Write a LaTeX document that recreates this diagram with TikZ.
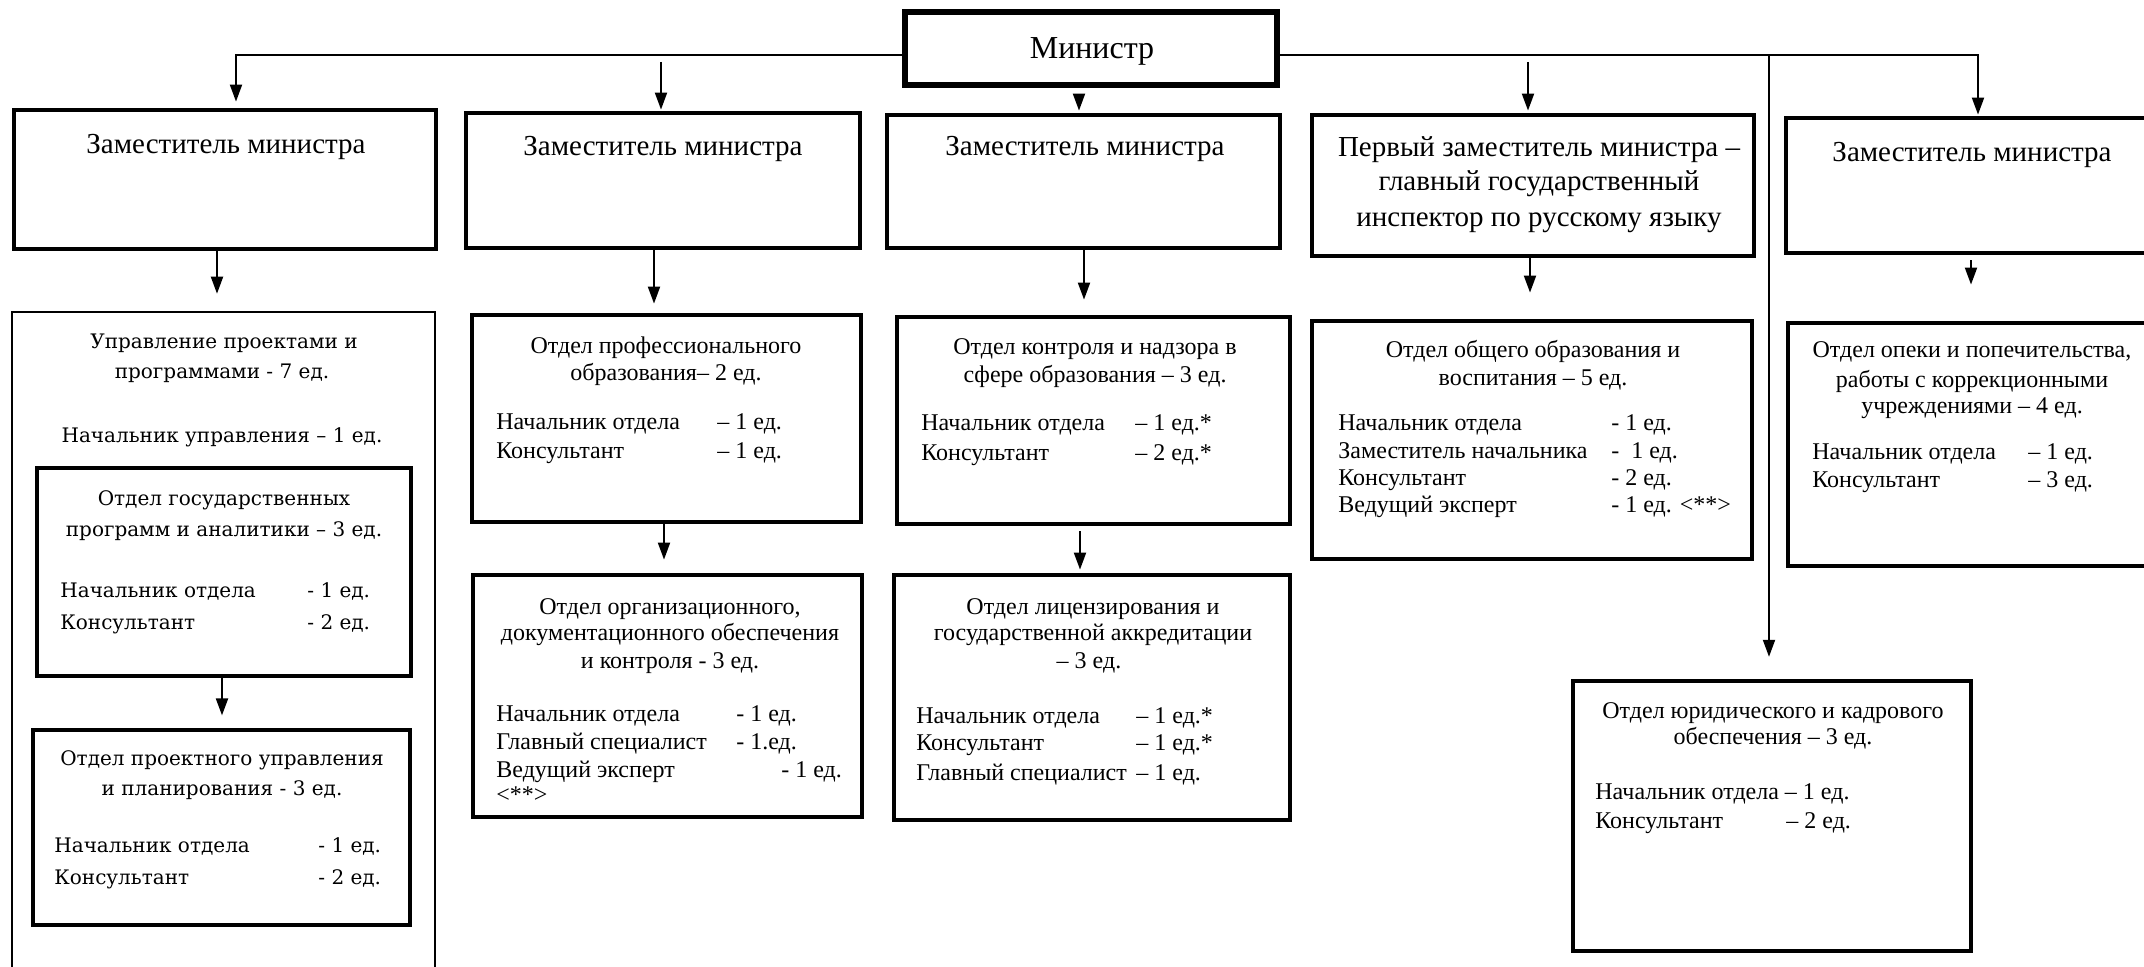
\documentclass[tikz,border=0pt]{standalone}
\usepackage{fontspec}
\setmainfont{Liberation Serif}
\newfontfamily\dvs{DejaVu Serif}
\usetikzlibrary{arrows.meta,fit}
\newcommand\fmin{\fontsize{16}{19}\selectfont}
\newcommand\fdep{\fontsize{14.5}{17}\selectfont}
\newcommand\fdept{\fontsize{12}{14}\selectfont}
\newcommand\fdv{\dvs\fontsize{10}{12}\selectfont}
\newcommand\rowtx[6]{%
  \node[rw] (#1a) at (#2,#4) {#5};
  \node[rw] (#1b) at (#3,#4) {#6};}
\begin{document}
\begin{tikzpicture}[x=0.5pt,y=-0.5pt,
  box/.style={draw, inner sep=0pt, line width=2.4pt},
  thinbox/.style={draw, inner sep=0pt, line width=1.3pt},
  midbox/.style={draw, inner sep=0pt, line width=1.6pt},
  ln/.style={line width=1pt},
  conn/.style={line width=1pt, -{Triangle[length=8.5pt,width=6pt]}},
  tl/.style={inner sep=0pt, anchor=mid, yshift=-1.8pt, font=\fdept},
  tld/.style={inner sep=0pt, anchor=mid, yshift=-1.8pt, font=\fdv},
  rw/.style={inner sep=0pt, anchor=mid west, yshift=-1.8pt, font=\fdept},
  dep/.style={inner sep=0pt, anchor=mid, yshift=-2pt, font=\fdep}]
\useasboundingbox (0,0) rectangle (2144,967);
\fill[white] (0,0) rectangle (2144,967);
\clip (0,0) rectangle (2144,967);

% boxes
\node[box, line width=2.6pt, fit={(905,12) (1277,85)}] (min) {};
\node[box, fit={(14,110) (436,249)}] (b1) {};
\node[box, fit={(466,113) (860,248)}] (b2) {};
\node[box, fit={(887,115) (1280,248)}] (b3) {};
\node[box, fit={(1312,115) (1754,256)}] (b4) {};
\node[box, fit={(1786,118) (2170,253)}] (b5) {};
\node[thinbox, fit={(12,312) (435,1000)}] (d1) {};
\node[midbox, fit={(37,468) (411,676)}] (s1) {};
\node[midbox, fit={(33,730) (410,925)}] (s2) {};
\node[box, fit={(472,315) (861,522)}] (d2) {};
\node[box, fit={(897,317) (1290,524)}] (d3) {};
\node[box, fit={(1312,321) (1752,559)}] (d4) {};
\node[box, fit={(1788,323) (2170,566)}] (d5) {};
\node[box, fit={(473,575) (862,817)}] (d6) {};
\node[box, fit={(894,575) (1290,820)}] (d7) {};
\node[box, line width=2.2pt, fit={(1573,681) (1971,951)}] (jb) {};

% junction coordinates on the bus line
\coordinate (c2) at (661,55);
\coordinate (c4) at (1528,55);
\coordinate (c6) at (1769,55);

% connectors
\draw[conn, shorten >=3pt] (min.west |- 0,55) -- (236,55) -- (b1.north -| 236,0);
\draw[conn, shorten >=0.5pt] (min.east |- 0,55) -- (1978,55) -- (b5.north -| 1978,0);
\draw[conn, shorten <=3.5pt, shorten >=0.5pt] (c2) -- (b2.north -| c2);
\draw[conn, shorten <=3.5pt, shorten >=1pt] (min.south -| 1079,0) -- (b3.north -| 1079,0);
\draw[conn, shorten <=3.5pt, shorten >=1pt] (c4) -- (b4.north -| c4);
\draw[conn, shorten >=11pt] (c6) -- (jb.north -| c6);
\draw[conn, shorten >=8.5pt] (b1.south -| 217,0) -- (d1.north -| 217,0);
\draw[conn, shorten >=4.5pt] (b2.south -| 654,0) -- (d2.north -| 654,0);
\draw[conn, shorten >=7.5pt] (b3.south -| 1084,0) -- (d3.north -| 1084,0);
\draw[conn, shorten >=13pt] (b4.south -| 1530,0) -- (d4.north -| 1530,0);
\draw[conn, shorten <=2.5pt, shorten >=18pt] (b5.south -| 1971,0) -- (d5.north -| 1971,0);
\draw[conn, shorten >=6.5pt] (d2.south -| 664,0) -- (d6.north -| 664,0);
\draw[conn, shorten <=2.5pt, shorten >=1.5pt] (d3.south -| 1080,0) -- (d7.north -| 1080,0);
\draw[conn, shorten >=6.5pt] (s1.south -| 222,0) -- (s2.north -| 222,0);

% top texts
\node[inner sep=0pt, anchor=mid, yshift=-2pt, font=\fmin] (tmin) at (1092,50) {Министр};
\node[dep] (tb1) at (226,145) {Заместитель министра};
\node[dep] (tb2) at (663,147) {Заместитель министра};
\node[dep] (tb3) at (1085,147) {Заместитель министра};
\node[dep] (tb4a) at (1539,148) {Первый заместитель министра –};
\node[dep] (tb4b) at (1539,182) {главный государственный};
\node[dep] (tb4c) at (1539,218) {инспектор по русскому языку};
\node[dep] (tb5) at (1972,153) {Заместитель министра};

% D1 block
\begin{scope}[rw/.style={inner sep=0pt, anchor=mid west, yshift=-1.8pt, font=\fdv}]
\node[tld] (d1t1) at (224,340) {Управление проектами и};
\node[tld] (d1t2) at (222,370) {программами - 7 ед.};
\node[tld] (d1t3) at (222,434) {Начальник управления – 1 ед.};
\node[tld] (s1t1) at (224,497) {Отдел государственных};
\node[tld] (s1t2) at (224,528) {программ и аналитики – 3 ед.};
\rowtx{s1r1}{60}{307}{589}{Начальник отдела}{- 1 ед.}
\rowtx{s1r2}{60}{307}{621}{Консультант}{- 2 ед.}
\node[tld] (s2t1) at (222,757) {Отдел проектного управления};
\node[tld] (s2t2) at (222,787) {и планирования - 3 ед.};
\rowtx{s2r1}{54}{318}{844}{Начальник отдела}{- 1 ед.}
\rowtx{s2r2}{54}{318}{876}{Консультант}{- 2 ед.}
\end{scope}

% D2
\node[tl] (d2t1) at (666,345) {Отдел профессионального};
\node[tl] (d2t2) at (666,372) {образования– 2 ед.};
\rowtx{d2r1}{496}{717}{421}{Начальник отдела}{– 1 ед.}
\rowtx{d2r2}{496}{717}{450}{Консультант}{– 1 ед.}
% D3
\node[tl] (d3t1) at (1095,346) {Отдел контроля и надзора в};
\node[tl] (d3t2) at (1095,374) {сфере образования – 3 ед.};
\rowtx{d3r1}{921}{1135}{422}{Начальник отдела}{– 1 ед.*}
\rowtx{d3r2}{921}{1135}{452}{Консультант}{– 2 ед.*}
% D4
\node[tl] (d4t1) at (1533,349) {Отдел общего образования и};
\node[tl] (d4t2) at (1533,377) {воспитания – 5 ед.};
\rowtx{d4r1}{1338}{1611}{422}{Начальник отдела}{- 1 ед.}
\rowtx{d4r2}{1338}{1611}{450}{Заместитель начальника}{-\ \ 1 ед.}
\rowtx{d4r3}{1338}{1611}{477}{Консультант}{- 2 ед.}
\rowtx{d4r4}{1338}{1611}{504}{Ведущий эксперт}{- 1 ед. <**>}
% D5
\node[tl] (d5t1) at (1972,349) {Отдел опеки и попечительства,};
\node[tl] (d5t2) at (1972,379) {работы с коррекционными};
\node[tl] (d5t3) at (1972,405) {учреждениями – 4 ед.};
\rowtx{d5r1}{1812}{2028}{451}{Начальник отдела}{– 1 ед.}
\rowtx{d5r2}{1812}{2028}{479}{Консультант}{– 3 ед.}
% D6
\node[tl] (d6t1) at (670,606) {Отдел организационного,};
\node[tl] (d6t2) at (670,632) {документационного обеспечения};
\node[tl] (d6t3) at (670,660) {и контроля - 3 ед.};
\rowtx{d6r1}{496}{736}{713}{Начальник отдела}{- 1 ед.}
\rowtx{d6r2}{496}{736}{741}{Главный специалист}{- 1.ед.}
\rowtx{d6r3}{496}{781}{769}{Ведущий эксперт}{- 1 ед.}
\node[rw] (d6r4) at (496,794) {<**>};
% D7
\node[tl] (d7t1) at (1093,606) {Отдел лицензирования и};
\node[tl] (d7t2) at (1093,632) {государственной аккредитации};
\node[tl] (d7t3) at (1089,660) {– 3 ед.};
\rowtx{d7r1}{916}{1136}{715}{Начальник отдела}{– 1 ед.*}
\rowtx{d7r2}{916}{1136}{742}{Консультант}{– 1 ед.*}
\rowtx{d7r3}{916}{1136}{772}{Главный специалист}{– 1 ед.}
% J
\node[tl] (jt1) at (1773,710) {Отдел юридического и кадрового};
\node[tl] (jt2) at (1773,736) {обеспечения – 3 ед.};
\node[rw] (jr1) at (1595,791) {Начальник отдела – 1 ед.};
\rowtx{jr2}{1595}{1786}{820}{Консультант}{– 2 ед.}
\end{tikzpicture}
\end{document}
